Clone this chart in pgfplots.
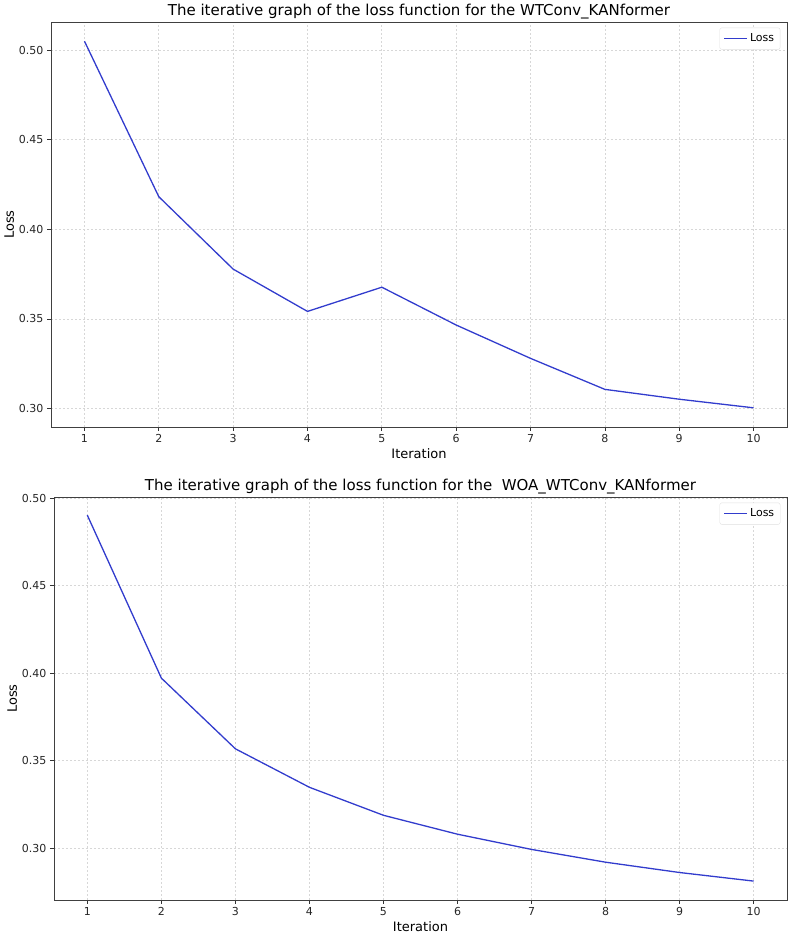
\documentclass[border=0pt]{standalone}
\usepackage{pgfplots}
\pgfplotsset{compat=1.18}
\usepackage{fontspec}
\setmainfont{DejaVu Sans}
\definecolor{lossblue}{RGB}{50,60,205}
\definecolor{gridgray}{RGB}{215,215,215}

\pgfplotstableread{
it loss
1  0.5050
2  0.4182
3  0.3778
4  0.3542
5  0.3677
6  0.3466
7  0.3280
8  0.3107
9  0.3052
10 0.3004
}\wtconv

\pgfplotstableread{
it loss
1  0.4903
2  0.3972
3  0.3568
4  0.3348
5  0.3188
6  0.3080
7  0.2993
8  0.2920
9  0.2861
10 0.2812
}\woawtconv

\pgfplotsset{
  lossaxis/.style={
    scale only axis,
    xmin=0.55, xmax=10.45,
    xtick={1,...,10},
    ytick={0.30,0.35,...,0.50},
    yticklabel style={/pgf/number format/.cd,fixed,fixed zerofill,precision=2},
    /pgf/number format/assume math mode=true,
    tick align=outside,
    major tick length=4pt,
    tick style={black!80, line width=0.7pt},
    axis line style={line width=0.9pt, black!75},
    tick label style={font=\fontsize{11}{13}\selectfont, text=black!85},
    label style={font=\fontsize{13}{15}\selectfont},
    title style={font=\fontsize{15}{18}\selectfont, yshift=-7pt},
    xlabel={Iteration},
    ylabel={Loss},
    xtick pos=bottom, ytick pos=left,
    xlabel style={yshift=1pt},
    ylabel style={yshift=-2pt},
    grid=major,
    major grid style={gridgray, line width=0.7pt, dash pattern=on 2pt off 2pt},
    legend style={at={(0.991,0.986)}, anchor=north east,
      font=\fontsize{11}{13}\selectfont, draw=black!12, rounded corners=2pt,
      inner xsep=4pt, inner ysep=4pt},
    legend image code/.code={
      \draw[lossblue, line width=1.3pt] (0pt,0pt) -- (23pt,0pt);
    },
    legend cell align=left,
  }
}

\begin{document}
\begin{tikzpicture}[x=1pt,y=1pt]
\useasboundingbox (0,0) rectangle (800,943);

\begin{axis}[lossaxis,
  at={(51pt,516pt)}, anchor=south west,
  width=736pt, height=405pt,
  ymin=0.2897, ymax=0.5157,
  title={The iterative graph of the loss function for the WTConv\_KANformer}]
\addplot[lossblue, line width=1.3pt] table[x=it, y=loss] {\wtconv};
\addlegendentry{Loss}
\end{axis}

\begin{axis}[lossaxis,
  at={(54pt,43pt)}, anchor=south west,
  width=733pt, height=403pt,
  ymin=0.2704, ymax=0.5007,
  title={The iterative graph of the loss function for the~ WOA\_WTConv\_KANformer}]
\addplot[lossblue, line width=1.3pt] table[x=it, y=loss] {\woawtconv};
\addlegendentry{Loss}
\end{axis}
\end{tikzpicture}
\end{document}
